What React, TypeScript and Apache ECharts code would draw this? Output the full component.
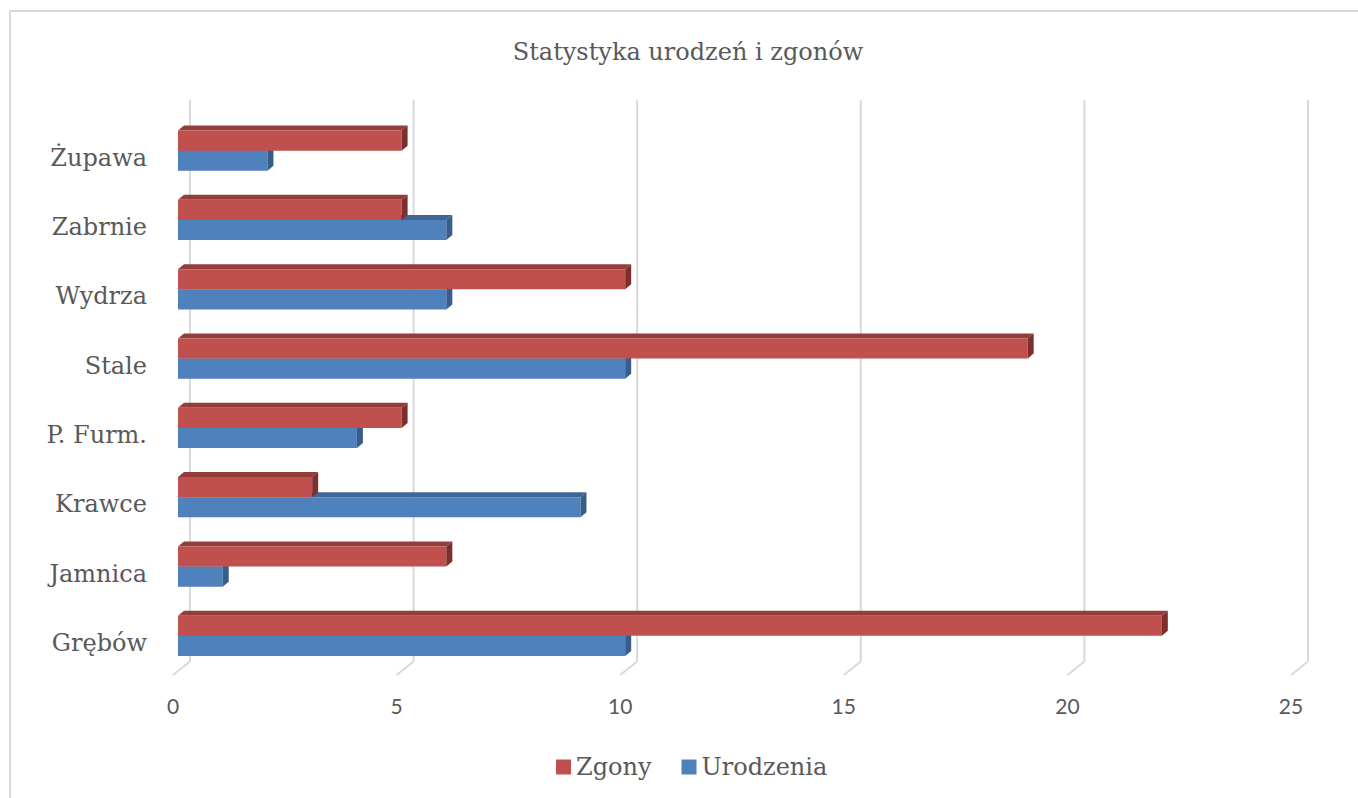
import React, { useEffect, useRef } from "react";
import * as echarts from "echarts";

const categories = ["Grębów", "Jamnica", "Krawce", "P. Furm.", "Stale", "Wydrza", "Zabrnie", "Żupawa"];
const zgony = [22, 6, 3, 5, 19, 10, 5, 5];
const urodzenia = [10, 1, 9, 4, 10, 6, 6, 2];
const xTicks = [0, 5, 10, 15, 20, 25];
const seriesNames = ["Zgony", "Urodzenia"];
const titleText = "Statystyka urodzeń i zgonów";

const SERIF = "'DejaVu Serif', serif";
const SANS = "Lato, 'Noto Sans', sans-serif";

function barRenderer(upper: boolean, front: string, topC: string, sideC: string) {
  return (params: any, api: any) => {
    const v = api.value(0);
    const i = api.value(1);
    const p0 = api.coord([0, i]);
    const p1 = api.coord([v, i]);
    const band = api.size([0, 1])[1];
    const h = band * 0.29;
    const yTop = upper ? p0[1] - h : p0[1];
    const yBot = yTop + h;
    const x0 = p0[0];
    const x1 = p1[0];
    const dx = 6;
    const dy = 5;
    return {
      type: "group",
      children: [
        {
          type: "polygon",
          shape: { points: [[x0, yTop], [x0 + dx, yTop - dy], [x1 + dx, yTop - dy], [x1, yTop]] },
          style: { fill: topC },
        },
        {
          type: "rect",
          shape: { x: x0, y: yTop, width: x1 - x0, height: h },
          style: { fill: front },
        },
        {
          type: "polygon",
          shape: { points: [[x1, yTop], [x1 + dx, yTop - dy], [x1 + dx, yBot - dy], [x1, yBot]] },
          style: { fill: sideC },
        },
      ],
    };
  };
}

function gridRenderer(params: any, api: any) {
  const v = api.value(0);
  const cs = params.coordSys;
  const fx = api.coord([v, 0])[0];
  const bx = fx + 12;
  const top = cs.y - 16;
  const bot = cs.y + cs.height - 9;
  return {
    type: "group",
    children: [
      {
        type: "line",
        shape: { x1: bx, y1: top, x2: bx, y2: bot },
        style: { stroke: "#d9d9d9", lineWidth: 2 },
      },
      {
        type: "line",
        shape: { x1: bx, y1: bot, x2: fx - 5, y2: cs.y + cs.height + 4.5 },
        style: { stroke: "#d9d9d9", lineWidth: 2 },
      },
    ],
  };
}

export default function App() {
  const ref = useRef<HTMLDivElement>(null);
  useEffect(() => {
    if (!ref.current) return;
    const chart = echarts.init(ref.current, undefined, { renderer: "svg" });
    chart.setOption({
      animation: false,
      backgroundColor: "#ffffff",
      title: {
        text: titleText,
        left: 688,
        textAlign: "center",
        top: 40,
        padding: 0,
        textStyle: { fontFamily: SERIF, fontSize: 24, fontWeight: "normal", color: "#595959" },
      },
      legend: {
        data: seriesNames,
        left: 556,
        top: 755,
        padding: 0,
        itemWidth: 15,
        itemHeight: 15,
        itemGap: 30,
        icon: "rect",
        textStyle: { fontFamily: SERIF, fontSize: 24, color: "#595959" },
      },
      graphic: [
        {
          type: "rect",
          shape: { x: 10, y: 11, width: 1400, height: 900 },
          style: { fill: "none", stroke: "#d9d9d9", lineWidth: 2 },
          silent: true,
        },
      ],
      grid: { left: 178, width: 1118, top: 116, height: 554.5 },
      xAxis: {
        type: "value",
        min: 0,
        max: 25,
        interval: 5,
        axisLine: { show: false },
        axisTick: { show: false },
        splitLine: { show: false },
        axisLabel: {
          margin: 24,
          fontFamily: SANS,
          fontSize: 21,
          color: "#595959",
          padding: [0, 10, 0, 0],
        },
      },
      yAxis: {
        type: "category",
        data: categories,
        axisLine: { show: false },
        axisTick: { show: false },
        splitLine: { show: false },
        axisLabel: {
          margin: 31,
          fontFamily: SERIF,
          fontSize: 24,
          color: "#595959",
          verticalAlign: "top",
          lineHeight: 14,
        },
      },
      series: [
        {
          type: "custom",
          name: "grid",
          silent: true,
          z: 1,
          data: xTicks.map((v) => [v, 0]),
          encode: { x: 0, y: 1 },
          renderItem: gridRenderer,
        },
        {
          type: "custom",
          name: "Urodzenia",
          z: 2,
          itemStyle: { color: "#4F81BD" },
          data: urodzenia.map((v, i) => [v, i]),
          encode: { x: 0, y: 1 },
          renderItem: barRenderer(false, "#4F81BD", "#3E6797", "#385D8A"),
        },
        {
          type: "custom",
          name: "Zgony",
          z: 3,
          itemStyle: { color: "#C0504D" },
          data: zgony.map((v, i) => [v, i]),
          encode: { x: 0, y: 1 },
          renderItem: barRenderer(true, "#C0504D", "#943E3B", "#7E2F2D"),
        },
      ],
    });
    return () => chart.dispose();
  }, []);
  return <div ref={ref} style={{ position: "fixed", left: 0, top: 0, width: 1358, height: 798 }} />;
}
